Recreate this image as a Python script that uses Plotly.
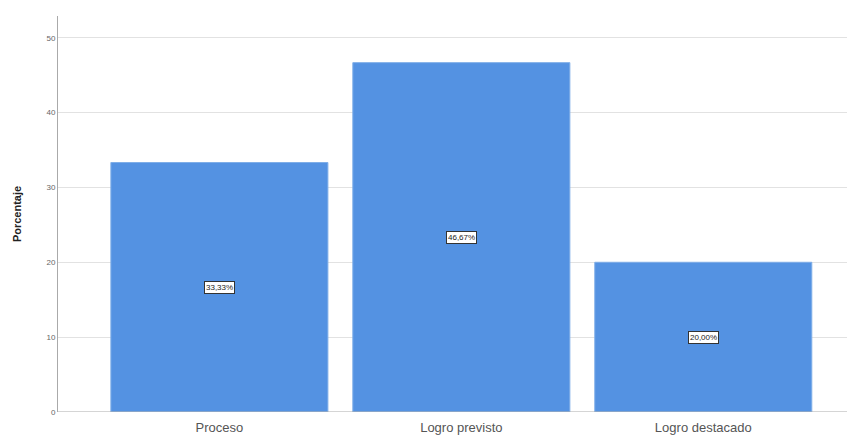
import plotly.graph_objects as go

categories = ["Proceso", "Logro previsto", "Logro destacado"]
percentages = [33.33, 46.67, 20.00]
value_labels = ["33,33%", "46,67%", "20,00%"]
y_ticks = [0, 10, 20, 30, 40, 50]

bar_color = "#5492E2"

fig = go.Figure()
fig.add_trace(go.Bar(
    x=categories, y=percentages,
    marker=dict(color=bar_color, line=dict(color="#7FAEE8", width=1)),
    width=0.897,
    hoverinfo="skip",
))

for c, v, lab in zip(categories, percentages, value_labels):
    fig.add_annotation(
        x=c, y=v / 2, text=lab, showarrow=False,
        font=dict(family="Liberation Sans, Arial", size=8, color="#222222"),
        bgcolor="white", bordercolor="#333333", borderwidth=1, borderpad=1,
    )

fig.update_layout(
    width=847, height=428,
    margin=dict(l=50, r=0, t=8, b=24, autoexpand=False),
    paper_bgcolor="white", plot_bgcolor="white",
    showlegend=False,
    font=dict(family="Liberation Sans, Arial", color="#444444"),
    xaxis=dict(
        range=[-0.667, 2.627],
        showgrid=False, showline=False, zeroline=False,
        ticks="outside", ticklen=3, tickcolor="rgba(0,0,0,0)",
        tickfont=dict(size=13, color="#555555"),
        automargin=False,
    ),
    yaxis=dict(
        range=[0, 52.9],
        tickvals=y_ticks,
        showgrid=True, gridcolor="#E2E2E2", gridwidth=1,
        showline=True, linecolor="#AAAAAA", linewidth=1,
        zeroline=False,
        ticks="", tickfont=dict(size=8, color="#666666"),
        automargin=False,
        title=dict(text="<b>Porcentaje</b>", font=dict(size=11, color="#222222"), standoff=22),
    ),
)
# bottom axis line
fig.add_shape(type="line", xref="paper", yref="y", x0=0, x1=1, y0=0, y1=0,
              line=dict(color="#AAAAAA", width=1))

fig.write_html("out.html")
